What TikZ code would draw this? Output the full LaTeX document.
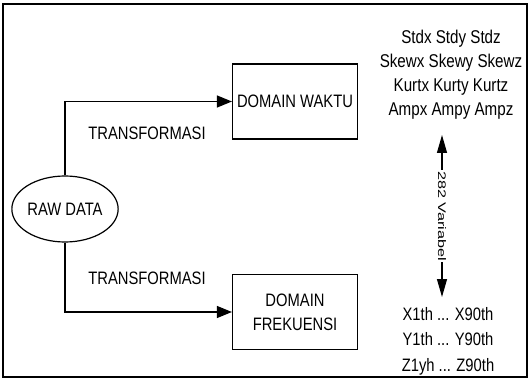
\documentclass[tikz,border=0pt]{standalone}
\usepackage{fontspec}
\setmainfont{Liberation Sans}[FakeStretch=0.82]
\usetikzlibrary{arrows.meta,shapes.geometric}

\tikzset{
  domainbox/.style={draw, line width=1.2pt, minimum width=125pt, minimum height=75pt, align=center, inner sep=1pt},
  txt/.style={font=\fontsize{18}{24}\selectfont},
  flow/.style={line width=1.2pt, -{Triangle[length=15pt,width=12pt]}},
  span/.style={line width=1.2pt, {Triangle[length=18pt,width=10pt]}-{Triangle[length=18pt,width=10pt]}}
}

\begin{document}
\begin{tikzpicture}[x=1pt,y=-1pt]
        % Frame
        \useasboundingbox (0,0) rectangle (530,382);
        \draw[line width=1.5pt] (3,4) rectangle (527,377);

        % Nodes
        \node[draw, ellipse, line width=1.2pt, minimum width=104pt, minimum height=66pt, inner sep=0pt, txt] (raw) at (65,209) {RAW DATA};
        \node[domainbox, txt] (waktu) at (295,101.5) {DOMAIN WAKTU};
        \node[domainbox, txt] (frek) at (295,312) {DOMAIN\\FREKUENSI};

        % Connectors
        \draw[flow] (raw.north) |- (waktu.west);
        \draw[flow] (raw.south) |- (frek.west);
        \node[txt] (trans1) at (147,133.5) {TRANSFORMASI};
        \node[txt] (trans2) at (147,278) {TRANSFORMASI};

        % Feature names
        \node[txt, font=\fontsize{18.5}{24}\selectfont, align=center, inner sep=0pt] (stats) at (451,75) {Stdx Stdy Stdz\\Skewx Skewy Skewz\\Kurtx Kurty Kurtz\\Ampx Ampy Ampz};
        \node[txt, font=\fontsize{18}{25.5}\selectfont, align=center, inner sep=0pt] (xyz) at (448,341) {X1th ... X90th\\Y1th ... Y90th\\Z1yh ... Z90th};

        % Variable count
        \coordinate (vtop) at (442,135);
        \coordinate (vbot) at (442,297);
        \draw[span] (vtop) -- (vbot)
            node[midway, fill=white, inner sep=1pt, rotate=-90, font=\fontsize{11}{13}\selectfont] (count) {\scalebox{1.8}[1]{282 Variabel}};
\end{tikzpicture}
\end{document}
